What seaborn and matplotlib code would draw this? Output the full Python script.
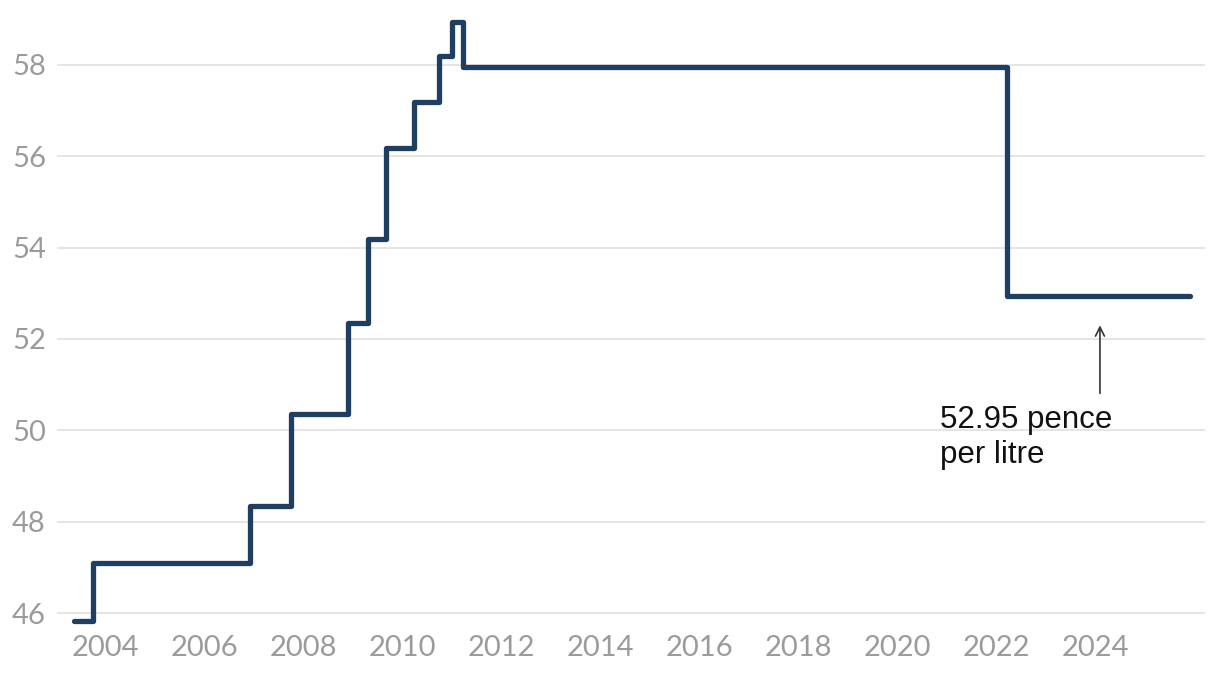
import matplotlib
matplotlib.use("Agg")
import matplotlib.pyplot as plt
import matplotlib.dates as mdates
import seaborn as sns
import pandas as pd

# Data: UK fuel duty (pence per litre), step changes
dates = ["2003-05-20", "2003-10-01", "2006-12-07", "2007-10-01", "2008-12-01",
         "2009-04-23", "2009-09-01", "2010-04-01", "2010-10-01", "2011-01-04",
         "2011-03-23", "2022-03-23", "2025-12-01"]
duty = [45.82, 47.10, 48.35, 50.35, 52.35, 54.19, 56.19, 57.19, 58.19, 58.95,
        57.95, 52.95, 52.95]
y_ticks = [46, 48, 50, 52, 54, 56, 58]
x_tick_years = list(range(2004, 2026, 2))
annotation_text = "52.95 pence\nper litre"

df = pd.DataFrame({"date": pd.to_datetime(dates), "duty": duty})

sns.set_theme(style="white")
plt.rcParams["font.family"] = ["Lato", "DejaVu Sans"]

W, H = 1220, 682
fig = plt.figure(figsize=(W / 100, H / 100), dpi=100)
ax = fig.add_axes([57 / W, (H - 627) / H, 1148 / W, 626 / H])

for v in y_ticks:
    ax.axhline(v, color="#e3e3e3", lw=1.3, zorder=0)

sns.lineplot(data=df, x="date", y="duty", ax=ax, drawstyle="steps-post",
             color="#1f3f62", lw=3.8, solid_joinstyle="round",
             solid_capstyle="round")

ax.set_xlim(pd.Timestamp("2003-01-12"), pd.Timestamp("2026-03-21"))
ax.set_ylim(45.694, 59.40)
ax.set_yticks(y_ticks)
ax.set_yticklabels([str(v) for v in y_ticks])
ax.set_xticks([pd.Timestamp(f"{y}-01-01") for y in x_tick_years])
ax.set_xticklabels([str(y) for y in x_tick_years])
ax.tick_params(axis="both", length=0, labelsize=21, colors="#9b9b9b")
ax.tick_params(axis="y", pad=8)
ax.tick_params(axis="x", pad=6)
ax.set_xlabel("")
ax.set_ylabel("")
for s in ax.spines.values():
    s.set_visible(False)
ax.grid(False)

# annotation arrow
x_arrow = mdates.date2num(pd.Timestamp("2024-02-05"))
ax.annotate("", xy=(x_arrow, 52.36), xytext=(x_arrow, 50.75),
            arrowprops=dict(arrowstyle="->", color="#333333", lw=1.2,
                            mutation_scale=16))
ax.text(mdates.date2num(pd.Timestamp("2020-11-14")), 50.55, annotation_text,
        fontsize=22.5, color="#111111", va="top", ha="left",
        family=["Liberation Sans", "DejaVu Sans"], linespacing=1.2)

fig.savefig("out.png", dpi=100)
